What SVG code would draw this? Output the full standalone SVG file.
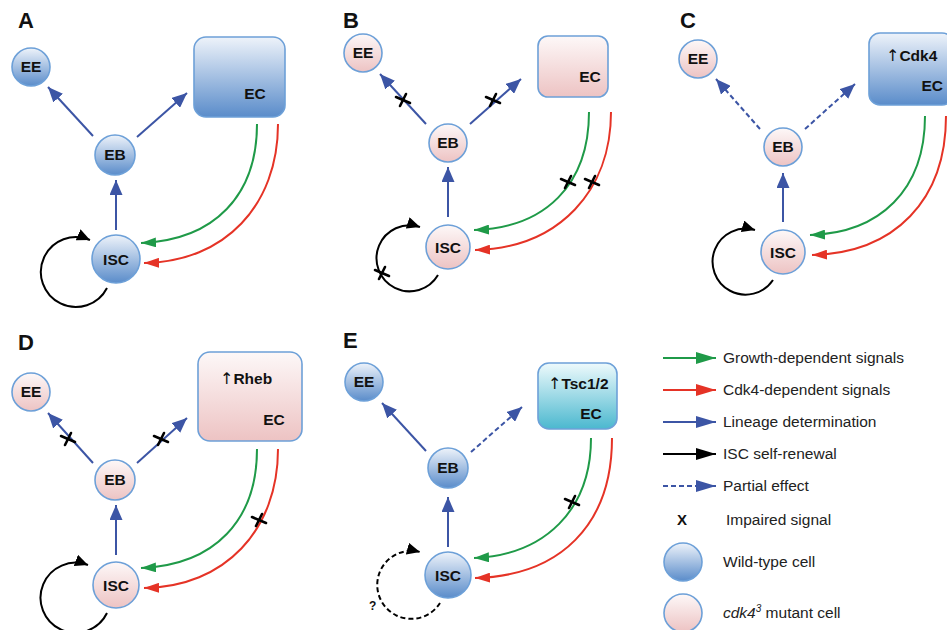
<svg xmlns="http://www.w3.org/2000/svg" width="947" height="630" viewBox="0 0 947 630">
<defs>
<linearGradient id="gBlue" x1="0" y1="0" x2="0" y2="1"><stop offset="0" stop-color="#eef3fa"/><stop offset="1" stop-color="#5a8cca"/></linearGradient>
<linearGradient id="gPink" x1="0" y1="0" x2="0" y2="1"><stop offset="0" stop-color="#fdf8f8"/><stop offset="1" stop-color="#edc3c3"/></linearGradient>
<linearGradient id="gCyan" x1="0" y1="0" x2="0" y2="1"><stop offset="0" stop-color="#eefafc"/><stop offset="1" stop-color="#4bb8cf"/></linearGradient>
<marker id="mBlue" markerUnits="userSpaceOnUse" markerWidth="16" markerHeight="13" refX="15" refY="6.5" orient="auto"><path d="M0,0 L15,6.5 L0,13 z" fill="#3c55a5"/></marker>
<marker id="mGreen" markerUnits="userSpaceOnUse" markerWidth="16" markerHeight="10" refX="15" refY="5" orient="auto"><path d="M0,0 L15,5 L0,10 z" fill="#1f9a48"/></marker>
<marker id="mRed" markerUnits="userSpaceOnUse" markerWidth="16" markerHeight="10" refX="15" refY="5" orient="auto"><path d="M0,0 L15,5 L0,10 z" fill="#e53326"/></marker>
<marker id="mBlack" markerUnits="userSpaceOnUse" markerWidth="14" markerHeight="12" refX="13" refY="6" orient="auto"><path d="M0,0 L13,6 L0,12 z" fill="#000"/></marker>
<marker id="mLgGreen" markerUnits="userSpaceOnUse" markerWidth="21" markerHeight="12" refX="20" refY="6" orient="auto"><path d="M0,0 L20,6 L0,12 z" fill="#1f9a48"/></marker>
<marker id="mLgRed" markerUnits="userSpaceOnUse" markerWidth="21" markerHeight="12" refX="20" refY="6" orient="auto"><path d="M0,0 L20,6 L0,12 z" fill="#e53326"/></marker>
<marker id="mLgBlue" markerUnits="userSpaceOnUse" markerWidth="21" markerHeight="12" refX="20" refY="6" orient="auto"><path d="M0,0 L20,6 L0,12 z" fill="#3c55a5"/></marker>
<marker id="mLgBlack" markerUnits="userSpaceOnUse" markerWidth="21" markerHeight="12" refX="20" refY="6" orient="auto"><path d="M0,0 L20,6 L0,12 z" fill="#000"/></marker>
</defs>
<style>
.wt{fill:url(#gBlue);stroke:#6da0d8;stroke-width:1.6}
.mu{fill:url(#gPink);stroke:#6da0d8;stroke-width:1.6}
.cy{fill:url(#gCyan);stroke:#6da0d8;stroke-width:1.6}
.nt{font-family:"Liberation Sans",Arial,sans-serif;font-weight:bold;font-size:15.5px;fill:#111;text-anchor:middle}
.et{font-family:"Liberation Sans",Arial,sans-serif;font-weight:bold;font-size:15.5px;fill:#111}
.ar{font-family:"DejaVu Sans",sans-serif;font-weight:normal;font-size:16px}
.pl{font-family:"Liberation Sans",Arial,sans-serif;font-weight:bold;font-size:22px;fill:#111}
.lt{font-family:"Liberation Sans",Arial,sans-serif;font-size:15.5px;fill:#222}
.bl{fill:none;stroke:#3c55a5;stroke-width:2;marker-end:url(#mBlue)}
.bd{fill:none;stroke:#3c55a5;stroke-width:2;stroke-dasharray:5 3;marker-end:url(#mBlue)}
.gr{fill:none;stroke:#1f9a48;stroke-width:2;marker-end:url(#mGreen)}
.rd{fill:none;stroke:#e53326;stroke-width:2;marker-end:url(#mRed)}
.lp{fill:none;stroke:#000;stroke-width:2;marker-end:url(#mBlack)}
.lpd{fill:none;stroke:#000;stroke-width:2;stroke-dasharray:5 3;marker-end:url(#mBlack)}
.x{stroke:#000;stroke-width:2.6;stroke-linecap:round}
</style>

<!-- Panel labels -->
<text class="pl" x="18" y="28">A</text>
<text class="pl" x="343" y="28">B</text>
<text class="pl" x="680" y="28">C</text>
<text class="pl" x="18" y="350">D</text>
<text class="pl" x="343" y="348">E</text>

<!-- Connectors -->
<g id="connectors">
  <!-- A -->
  <path class="bl" d="M93,136 L48,87"/>
  <path class="bl" d="M137,137 L187,93"/>
  <path class="bl" d="M116,230 L116,180"/>
  <path class="gr" d="M257,124 C257,195 215,240 141,243"/>
  <path class="rd" d="M278,124 C278,205 225,262 144,263"/>
  <path class="lp" d="M107,288 A35,35 0 1 1 90,240"/>
  <!-- B -->
  <path class="bl" d="M426,124 L380,74"/>
  <path class="bl" d="M470,124 L521,79"/>
  <path class="bl" d="M448,217 L448,167"/>
  <path class="gr" d="M589,112 C589,185 545,228 474,230"/>
  <path class="rd" d="M611,112 C611,190 560,248 475,250"/>
  <path class="lp" d="M438,275 A33,33 0 1 1 420,227"/>
  <!-- C -->
  <path class="bd" d="M760,129 L716,79"/>
  <path class="bd" d="M805,129 L855,84"/>
  <path class="bl" d="M783,222 L783,173"/>
  <path class="gr" d="M925,116 C925,190 880,233 810,235"/>
  <path class="rd" d="M946,116 C946,200 895,253 812,255"/>
  <path class="lp" d="M773,280 A33,33 0 1 1 755,230"/>
  <!-- D -->
  <path class="bl" d="M93,463 L48,413"/>
  <path class="bl" d="M137,463 L187,418"/>
  <path class="bl" d="M116,555 L116,505"/>
  <path class="gr" d="M257,449 C257,520 215,565 141,568"/>
  <path class="rd" d="M278,449 C278,530 225,587 144,588"/>
  <path class="lp" d="M107,613 A35,35 0 1 1 88,565"/>
  <!-- E -->
  <path class="bl" d="M426,451 L382,403"/>
  <path class="bd" d="M471,452 L522,407"/>
  <path class="bl" d="M448,547 L448,497"/>
  <path class="gr" d="M591,438 C591,510 545,555 474,558"/>
  <path class="rd" d="M612,438 C612,525 560,576 475,578"/>
  <path class="lpd" d="M440,603 A34,34 0 1 1 420,552"/>
</g>

<!-- Impaired marks -->
<g id="impaired">
  <g transform="translate(403,100)"><line class="x" x1="-7" y1="-3" x2="7" y2="3"/><line class="x" x1="-3" y1="6" x2="3" y2="-6"/></g>
  <g transform="translate(493,100)"><line class="x" x1="-7" y1="-3" x2="7" y2="3"/><line class="x" x1="-3" y1="6" x2="3" y2="-6"/></g>
  <g transform="translate(568,182)"><line class="x" x1="-7" y1="-3" x2="7" y2="3"/><line class="x" x1="-3" y1="6" x2="3" y2="-6"/></g>
  <g transform="translate(592,182)"><line class="x" x1="-7" y1="-3" x2="7" y2="3"/><line class="x" x1="-3" y1="6" x2="3" y2="-6"/></g>
  <g transform="translate(382,273)"><line class="x" x1="-7" y1="-3" x2="7" y2="3"/><line class="x" x1="-3" y1="6" x2="3" y2="-6"/></g>
  <g transform="translate(68,439)"><line class="x" x1="-7" y1="-3" x2="7" y2="3"/><line class="x" x1="-3" y1="6" x2="3" y2="-6"/></g>
  <g transform="translate(161,439)"><line class="x" x1="-7" y1="-3" x2="7" y2="3"/><line class="x" x1="-3" y1="6" x2="3" y2="-6"/></g>
  <g transform="translate(259,520)"><line class="x" x1="-7" y1="-3" x2="7" y2="3"/><line class="x" x1="-3" y1="6" x2="3" y2="-6"/></g>
  <g transform="translate(572,502)"><line class="x" x1="-7" y1="-3" x2="7" y2="3"/><line class="x" x1="-3" y1="6" x2="3" y2="-6"/></g>
</g>

<!-- Panel A nodes -->
<g id="A-EE"><circle class="wt" cx="31" cy="67" r="19"/><text class="nt" x="31" y="72">EE</text></g>
<g id="A-EB"><circle class="wt" cx="115" cy="155" r="20"/><text class="nt" x="115" y="160">EB</text></g>
<g id="A-ISC"><circle class="wt" cx="116" cy="259" r="24"/><text class="nt" x="116" y="265">ISC</text></g>
<g id="A-EC"><rect class="wt" x="194" y="37" width="91" height="80" rx="12"/><text class="nt" x="255" y="99">EC</text></g>

<!-- Panel B nodes -->
<g id="B-EE"><circle class="mu" cx="363" cy="53" r="19"/><text class="nt" x="363" y="58">EE</text></g>
<g id="B-EB"><circle class="mu" cx="448" cy="143" r="19"/><text class="nt" x="448" y="148">EB</text></g>
<g id="B-ISC"><circle class="mu" cx="448" cy="247" r="22"/><text class="nt" x="448" y="253">ISC</text></g>
<g id="B-EC"><rect class="mu" x="538" y="36" width="70" height="61" rx="10"/><text class="nt" x="590" y="82">EC</text></g>

<!-- Panel C nodes -->
<g id="C-EE"><circle class="mu" cx="698" cy="59" r="19"/><text class="nt" x="698" y="64">EE</text></g>
<g id="C-EB"><circle class="mu" cx="783" cy="147" r="19"/><text class="nt" x="783" y="152">EB</text></g>
<g id="C-ISC"><circle class="mu" cx="783" cy="252" r="22"/><text class="nt" x="783" y="258">ISC</text></g>
<g id="C-EC"><rect class="wt" x="869" y="33" width="84" height="72" rx="11"/><text class="et" x="886" y="61"><tspan class="ar">↑</tspan>Cdk4</text><text class="et" x="943" y="91" text-anchor="end">EC</text></g>

<!-- Panel D nodes -->
<g id="D-EE"><circle class="mu" cx="31" cy="392" r="19"/><text class="nt" x="31" y="397">EE</text></g>
<g id="D-EB"><circle class="mu" cx="115" cy="480" r="20"/><text class="nt" x="115" y="485">EB</text></g>
<g id="D-ISC"><circle class="mu" cx="116" cy="585" r="23"/><text class="nt" x="116" y="591">ISC</text></g>
<g id="D-EC"><rect class="mu" x="198" y="352" width="104" height="89" rx="12"/><text class="et" x="220" y="384"><tspan class="ar">↑</tspan>Rheb</text><text class="nt" x="274" y="425">EC</text></g>

<!-- Panel E nodes -->
<g id="E-EE"><circle class="wt" cx="364" cy="382" r="19"/><text class="nt" x="364" y="387">EE</text></g>
<g id="E-EB"><circle class="wt" cx="448" cy="468" r="20"/><text class="nt" x="448" y="473">EB</text></g>
<g id="E-ISC"><circle class="wt" cx="448" cy="575" r="23"/><text class="nt" x="448" y="581">ISC</text></g>
<g id="E-EC"><rect class="cy" x="538" y="363" width="79" height="66" rx="11"/><text class="et" x="548" y="389"><tspan class="ar">↑</tspan>Tsc1/2</text><text class="nt" x="591" y="419">EC</text></g>
<text x="369" y="610" font-family="Liberation Sans, Arial, sans-serif" font-weight="bold" font-size="12" fill="#111">?</text>

<!-- Legend -->
<g id="legend">
  <line x1="663" y1="358" x2="716" y2="358" stroke="#1f9a48" stroke-width="2" marker-end="url(#mLgGreen)"/>
  <text class="lt" x="723" y="363">Growth-dependent signals</text>
  <line x1="663" y1="390" x2="716" y2="390" stroke="#e53326" stroke-width="2" marker-end="url(#mLgRed)"/>
  <text class="lt" x="723" y="395">Cdk4-dependent signals</text>
  <line x1="663" y1="422" x2="716" y2="422" stroke="#3c55a5" stroke-width="2" marker-end="url(#mLgBlue)"/>
  <text class="lt" x="723" y="427">Lineage determination</text>
  <line x1="663" y1="454" x2="716" y2="454" stroke="#000" stroke-width="2" marker-end="url(#mLgBlack)"/>
  <text class="lt" x="723" y="459">ISC self-renewal</text>
  <line x1="663" y1="486" x2="716" y2="486" stroke="#3c55a5" stroke-width="2" stroke-dasharray="5 3" marker-end="url(#mLgBlue)"/>
  <text class="lt" x="723" y="491">Partial effect</text>
  <text x="682" y="525" text-anchor="middle" font-family="Liberation Sans, Arial, sans-serif" font-weight="bold" font-size="15" fill="#111">X</text>
  <text class="lt" x="726" y="525">Impaired signal</text>
  <circle class="wt" cx="683" cy="562" r="19"/>
  <text class="lt" x="723" y="567">Wild-type cell</text>
  <circle class="mu" cx="683" cy="613" r="19"/>
  <text class="lt" x="723" y="618"><tspan font-style="italic">cdk4</tspan><tspan font-style="italic" font-size="10" dy="-6">3</tspan><tspan dy="6"> mutant cell</tspan></text>
</g>
</svg>
